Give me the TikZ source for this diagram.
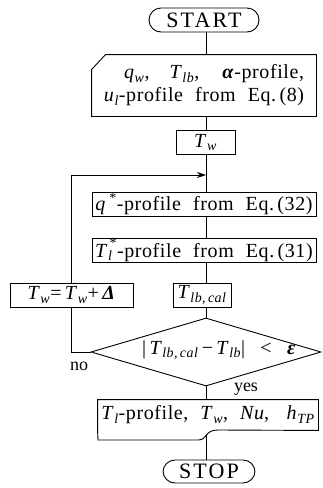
\documentclass[tikz,border=0pt]{standalone}
\usepackage{fontspec}
\setmainfont{Liberation Serif}
\usetikzlibrary{shapes.geometric,arrows.meta}

% text styles of the chart
\newcommand\flowfont{\fontsize{20}{23}\selectfont\addfontfeature{LetterSpace=3}%
  \spaceskip=0.6em plus 0.1em minus 0.1em\relax}
\newcommand\termfont{\fontsize{22}{24}\selectfont\addfontfeature{LetterSpace=10}}
\newcommand\lsub[1]{\textsubscript{\itshape #1}}
\newcommand\bgr[1]{\textbf{\itshape #1}}
\newcommand\vi[1]{\textit{#1}}

\begin{document}
\begin{tikzpicture}[x=1pt,y=-1pt,line width=0.9pt,
  box/.style={draw,rectangle,inner sep=0pt,minimum height=24pt,font=\flowfont},
  term/.style={draw,rectangle,rounded corners=12pt,inner sep=0pt,minimum height=24pt,font=\termfont},
  plain/.style={inner sep=0pt,font=\flowfont},
  decision/.style={draw,diamond,inner sep=0pt,minimum width=230pt,minimum height=68pt},
  loopend/.style={-{Stealth[length=9pt,width=6pt]}},
]
\useasboundingbox (0,0) rectangle (322,488);
\coordinate (spine) at (206,0);

% start
\node[term,minimum width=110pt] (start) at (204,20) {START};

% input data (manual input shape)
\node[plain,minimum width=224pt,minimum height=61pt,align=right] (inp) at (204,85.5)
  {\vi{q}\lsub{w},\quad \vi{T}\lsub{lb},\;\; \bgr{α}-profile,\\
   \vi{u}\lsub{l}-profile from Eq.\,(8)};
\draw ([yshift=-15pt]inp.north west) -- ([xshift=14pt]inp.north west)
  -- (inp.north east) -- (inp.south east) -- (inp.south west) -- cycle;

% main sequence
\node[box,minimum width=59pt] (tw) at (205.5,142.5) {\vi{T}\lsub{w}};
\coordinate (join) at (206,175);
\node[box,minimum width=224pt] (qs) at (204,204)
  {\vi{q}\,\textsuperscript{*}-profile from Eq.\,(32)};
\node[box,minimum width=224pt] (tls) at (204,250)
  {\vi{T}\lsub{l}\kern-3pt\raisebox{2pt}{\textsuperscript{*}}-profile from Eq.\,(31)};
\node[box,minimum width=58pt] (tlb) at (202,295) {\vi{T}\lsub{lb,\,cal}};
\node[box,minimum width=123pt] (upd) at (71.5,295)
  {\vi{T}\lsub{w}=\,\vi{T}\lsub{w}+\,\bgr{Δ}};

% convergence test
\node[decision] (chk) at (206,352) {};
\node[plain] (chktxt) at (219,350)
  {|\,\vi{T}\lsub{lb,\,cal}\,−\,\vi{T}\lsub{lb}|\, <\, \bgr{ε}};

% results (document shape)
\node[plain,minimum width=220pt,minimum height=30pt] (res) at (208,415)
  {\vi{T}\lsub{l}-profile, \vi{T}\lsub{w}, \vi{Nu}, \;\vi{h}\lsub{TP}};
\draw (res.north west) -- (res.north east) -- (res.south east) -- (218,430)
  .. controls (204,430) and (208,440) .. coordinate[pos=0.5] (resfoot) (198,440)
  -- (98,440) -- (res.south west) -- cycle;

% stop
\node[term,minimum width=92pt,minimum height=23pt] (stop) at (209,471.5) {STOP};

% connectors
\draw (start.south -| spine) -- (inp.north -| spine);
\draw (inp.south -| spine) -- (tw.north -| spine);
\draw (tw.south -| spine) -- (qs.north -| spine);
\draw (qs.south -| spine) -- (tls.north -| spine);
\draw (tls.south -| spine) -- (tlb.north -| spine);
\draw (tlb.south -| spine) -- (chk.north);
\draw (chk.south) -- (res.north -| chk.south);
\draw (resfoot) -- (resfoot |- stop.north);
\draw[loopend] (upd.north) |- (join);
\draw (upd.south) |- (chk.west);

% branch labels
\node[plain,font=\fontsize{18}{20}\selectfont] (no) at (79,366) {no};
\node[plain,font=\fontsize{18}{20}\selectfont] (yes) at (246,389) {yes};
\end{tikzpicture}
\end{document}
